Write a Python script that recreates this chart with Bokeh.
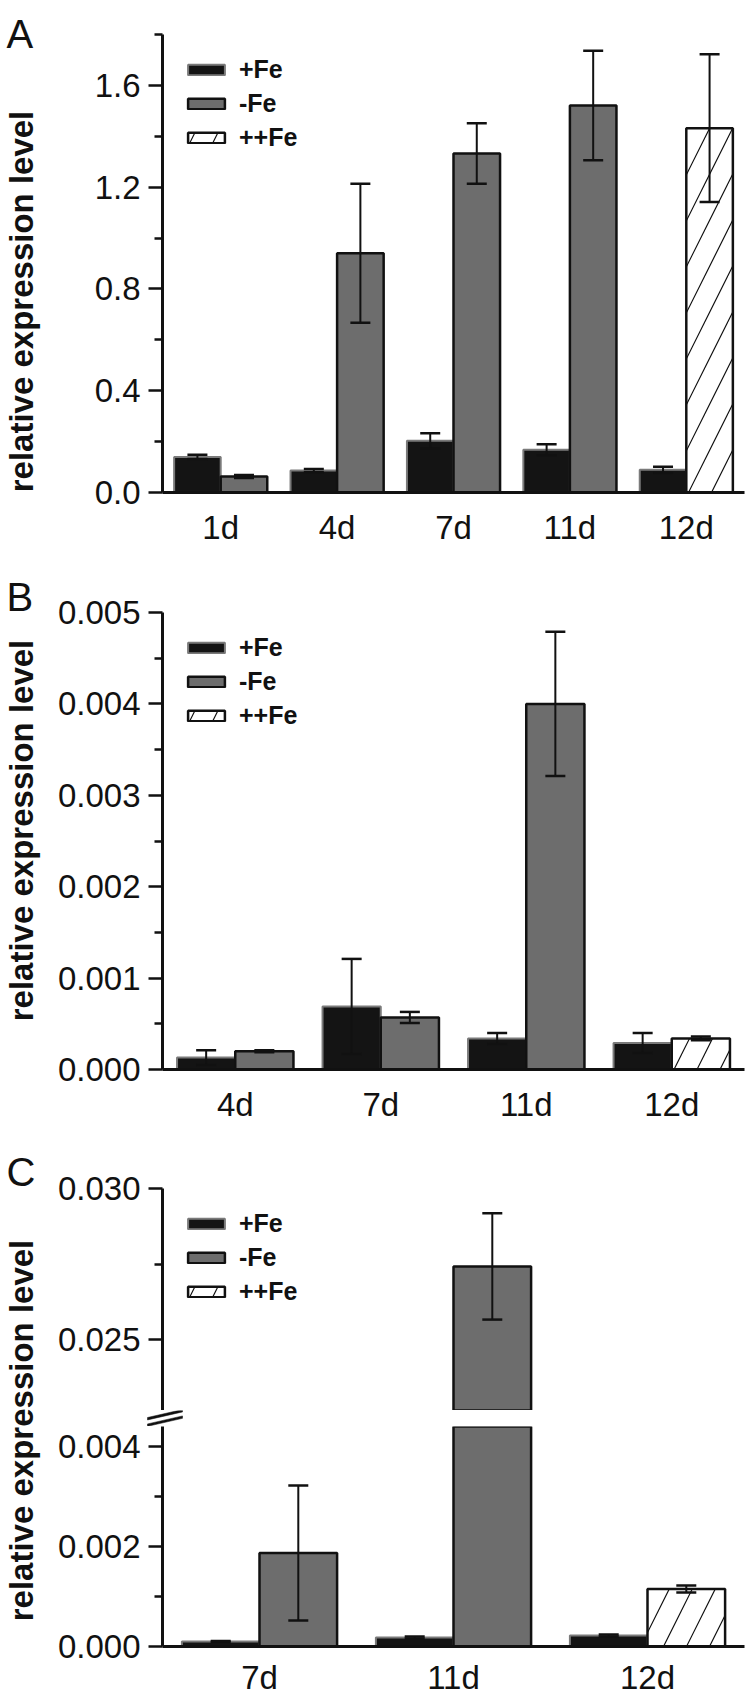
import math
import numpy as np
from bokeh.plotting import figure
from bokeh.models import (ColumnDataSource, FactorRange, Range1d, Whisker, TeeHead, Label,
                          FixedTicker, PrintfTickFormatter)
from bokeh.transform import dodge
from bokeh.layouts import column, row
from bokeh.embed import file_html
from bokeh.resources import INLINE

# ---------------- data ----------------
A_days = ["1d", "4d", "7d", "11d", "12d"]
A_plus = [0.140, 0.086, 0.203, 0.168, 0.089]
A_plus_err = [0.008, 0.006, 0.030, 0.022, 0.012]
A_minus_days = ["1d", "4d", "7d", "11d"]
A_minus = [0.063, 0.940, 1.332, 1.521]
A_minus_err = [0.006, 0.273, 0.119, 0.215]
A_pp_days = ["12d"]
A_pp = [1.432]
A_pp_err = [0.290]
A_major = [0.0, 0.4, 0.8, 1.2, 1.6]
A_minor = [0.2, 0.6, 1.0, 1.4, 1.8]

B_days = ["4d", "7d", "11d", "12d"]
B_plus = [0.00013, 0.00069, 0.00034, 0.00029]
B_plus_err = [0.00008, 0.00052, 0.00006, 0.00011]
B_minus_days = ["4d", "7d", "11d"]
B_minus = [0.00020, 0.00057, 0.00400]
B_minus_err = [0.00001, 0.00006, 0.00079]
B_pp_days = ["12d"]
B_pp = [0.00034]
B_pp_err = [0.00002]
B_major = [0.000, 0.001, 0.002, 0.003, 0.004, 0.005]
B_minor = [0.0005, 0.0015, 0.0025, 0.0035, 0.0045]

C_days = ["7d", "11d", "12d"]
C_plus = [0.00010, 0.00018, 0.00022]
C_plus_err = [0.00001, 0.00002, 0.00002]
C_minus_days = ["7d", "11d"]
C_minus = [0.00187, 0.02742]
C_minus_err = [0.00135, 0.00176]
C_pp_days = ["12d"]
C_pp = [0.00115]
C_pp_err = [0.00007]
C_low_major = [0.000, 0.002, 0.004]
C_low_minor = [0.001, 0.003]
C_up_major = [0.025, 0.030]
C_up_minor = [0.0275]

series_labels = ["+Fe", "-Fe", "++Fe"]
panel_letters = ["A", "B", "C"]
y_title = "relative expression level"

# ---------------- styles / layout ----------------
FONT = "Liberation Sans"
INK = "#111111"
PLUS = dict(fill_color="#141414", line_color="#7a7a7a", line_width=2)
MINUS = dict(fill_color="#6d6d6d", line_color=INK, line_width=2.5)
PP = dict(fill_color="white", line_color=INK, line_width=2.5, hatch_pattern="/",
          hatch_color=INK, hatch_scale=46, hatch_weight=1.2)

STRIP_W = 48                  # left strip holding panel letter + y title
FIG_W = 747 - STRIP_W
FRAME_L, FRAME_R = 162, 744   # page pixel x of plot frames


def bare(width, height, xr, yr):
    """A figure without axes whose frame is its whole canvas."""
    s = figure(width=width, height=height, x_range=Range1d(*xr), y_range=Range1d(*yr),
               output_backend="svg", toolbar_location=None,
               x_axis_location=None, y_axis_location=None,
               min_border_left=0, min_border_right=0, min_border_top=0, min_border_bottom=0)
    s.outline_line_color = None
    s.xgrid.visible = False
    s.ygrid.visible = False
    return s


def make_fig(days, height, yr, mb, x_axis=True, x_range=None):
    p = figure(x_range=x_range if x_range is not None else FactorRange(factors=days, range_padding=0),
               y_range=Range1d(yr[0], yr[1]),
               width=FIG_W, height=height, output_backend="svg", toolbar_location=None,
               x_axis_location="below" if x_axis else None,
               min_border_left=FRAME_L - STRIP_W, min_border_right=747 - FRAME_R,
               min_border_top=mb[0], min_border_bottom=mb[1])
    p.outline_line_color = None
    p.xgrid.visible = False
    p.ygrid.visible = False
    return p


def style_y(p, major, minor, fmt):
    ax = p.yaxis[0]
    ax.ticker = FixedTicker(ticks=major, minor_ticks=minor)
    ax.formatter = PrintfTickFormatter(format=fmt)
    ax.major_label_text_font = FONT
    ax.major_label_text_font_size = "33px"
    ax.major_label_text_color = INK
    ax.axis_line_width = 3
    ax.axis_line_color = INK
    ax.major_tick_out = 14
    ax.major_tick_in = 0
    ax.minor_tick_out = 8
    ax.minor_tick_in = 0
    ax.major_tick_line_width = 2.5
    ax.minor_tick_line_width = 2.5
    ax.major_tick_line_color = INK
    ax.minor_tick_line_color = INK
    ax.major_label_standoff = 8


def style_x(p, standoff):
    ax = p.xaxis[0]
    ax.major_label_text_font = FONT
    ax.major_label_text_font_size = "33px"
    ax.major_label_text_color = INK
    ax.axis_line_width = 3
    ax.axis_line_color = INK
    ax.major_tick_out = 0
    ax.major_tick_in = 0
    ax.major_tick_line_color = None
    ax.minor_tick_line_color = None
    ax.major_label_standoff = standoff


def add_series(p, days, vals, errs, style, dx, yr, label=None):
    # bars that do not reach into this (possibly broken) y range are left undrawn (NaN)
    shown = np.array([v if v > yr[0] else np.nan for v in vals], dtype=float)
    src = ColumnDataSource(dict(day=list(days), top=shown))
    kw = dict(legend_label=label) if label else {}
    p.vbar(x=dodge("day", dx, range=p.x_range), top="top", bottom=0, width=0.4,
           source=src, **style, **kw)
    keep = [i for i in range(len(days)) if yr[0] < vals[i] <= yr[1]]
    if keep:
        wsrc = ColumnDataSource(dict(day=[days[i] for i in keep],
                                     upper=[vals[i] + errs[i] for i in keep],
                                     lower=[vals[i] - errs[i] for i in keep]))
        w = Whisker(base=dodge("day", dx, range=p.x_range), upper="upper", lower="lower",
                    source=wsrc, line_width=2, line_color=INK, level="annotation",
                    upper_head=TeeHead(size=20, line_width=2.5, line_color=INK),
                    lower_head=TeeHead(size=20, line_width=2.5, line_color=INK))
        p.add_layout(w)


def style_legend(p):
    lg = p.legend[0]
    lg.location = "top_left"
    lg.margin = 21
    lg.padding = 0
    lg.spacing = 5
    lg.glyph_width = 46
    lg.glyph_height = 13
    lg.label_height = 26
    lg.label_standoff = 10
    lg.label_text_font = FONT
    lg.label_text_font_style = "bold"
    lg.label_text_font_size = "25px"
    lg.label_text_color = INK
    lg.background_fill_alpha = 0
    lg.border_line_alpha = 0


def panel(p, days, plus, plus_err, mdays, minus, minus_err, pdays, pp, pp_err, yr, legend=True):
    add_series(p, days, plus, plus_err, PLUS, -0.2, yr, series_labels[0] if legend else None)
    add_series(p, mdays, minus, minus_err, MINUS, 0.2, yr, series_labels[1] if legend else None)
    add_series(p, pdays, pp, pp_err, PP, 0.2, yr, series_labels[2] if legend else None)
    if legend:
        style_legend(p)


def strip(height, letter, letter_baseline, title_center):
    s = bare(STRIP_W, height, (0, 1), (0, 1))
    s.add_layout(Label(x=6, y=height - letter_baseline, x_units="screen", y_units="screen",
                       text=letter, text_font=FONT, text_font_size="40px", text_color=INK,
                       text_align="left", text_baseline="alphabetic"))
    s.add_layout(Label(x=21, y=height - title_center, x_units="screen", y_units="screen",
                       text=y_title, angle=math.pi / 2, text_align="center",
                       text_baseline="middle", text_font=FONT, text_font_size="33px",
                       text_font_style="bold", text_color=INK))
    return s


# ---------------- panel A (page y 0..548) ----------------
A_yr = (0.0, 1.8)
pA = make_fig(A_days, 548, A_yr, (34, 53))
panel(pA, A_days, A_plus, A_plus_err, A_minus_days, A_minus, A_minus_err,
      A_pp_days, A_pp, A_pp_err, A_yr)
style_y(pA, A_major, A_minor, "%.1f")
style_x(pA, 16)
sA = strip(548, panel_letters[0], 33, 301)

# ---------------- panel B (page y 548..1125) ----------------
B_yr = (0.0, 0.005)
pB = make_fig(B_days, 577, B_yr, (64, 53))
panel(pB, B_days, B_plus, B_plus_err, B_minus_days, B_minus, B_minus_err,
      B_pp_days, B_pp, B_pp_err, B_yr)
style_y(pB, B_major, B_minor, "%.3f")
style_x(pB, 16)
sB = strip(577, panel_letters[1], 596 - 548, 830 - 548)

# ---------------- panel C, broken axis (page y 1125..1698) ----------------
C_TOP = 1125
CU_top, CU_bot = 1188, 1410       # upper frame (page y)
CL_top, CL_bot = 1426, 1648       # lower frame (page y)
CU_yr = (0.02265, 0.030)
CL_yr = (0.0, 0.0044)

pCU = make_fig(C_days, CU_bot - C_TOP, CU_yr, (CU_top - C_TOP, 0), x_axis=False)
panel(pCU, C_days, C_plus, C_plus_err, C_minus_days, C_minus, C_minus_err,
      C_pp_days, C_pp, C_pp_err, CU_yr)
style_y(pCU, C_up_major, C_up_minor, "%.3f")

pCL = make_fig(C_days, 1698 - CL_top, CL_yr, (0, 1698 - CL_bot),
               x_axis=True, x_range=pCU.x_range)
panel(pCL, C_days, C_plus, C_plus_err, C_minus_days, C_minus, C_minus_err,
      C_pp_days, C_pp, C_pp_err, CL_yr, legend=False)
style_y(pCL, C_low_major, C_low_minor, "%.3f")
style_x(pCL, 12)

# gap between the two halves, carrying the "//" axis-break marks (page-pixel coordinates)
gap = bare(FIG_W, CL_top - CU_bot, (STRIP_W, 747), (CL_top, CU_bot))
yc = (CU_bot + CL_top) / 2.0
bx0, bx1 = FRAME_L - 15, FRAME_L + 20
rise, half_t = 8.0, 1.2
brk_xs, brk_ys = [], []
for off in (-3.2, 3.2):
    ya = yc + off + rise * (FRAME_L - bx0) / (bx1 - bx0)
    yb = yc + off - rise * (bx1 - FRAME_L) / (bx1 - bx0)
    brk_xs.append([bx0, bx1, bx1, bx0])
    brk_ys.append([ya - half_t, yb - half_t, yb + half_t, ya + half_t])
gap.patches(xs=brk_xs, ys=brk_ys, fill_color=INK, line_color=INK, line_width=0.5)

sC = strip(1698 - C_TOP, panel_letters[2], 1171 - C_TOP, 1430 - C_TOP)

layout = column(row(sA, column(pA)), row(sB, column(pB)),
                row(sC, column(pCU, row(gap), pCL)))
open("out.html", "w").write(file_html(layout, INLINE))
